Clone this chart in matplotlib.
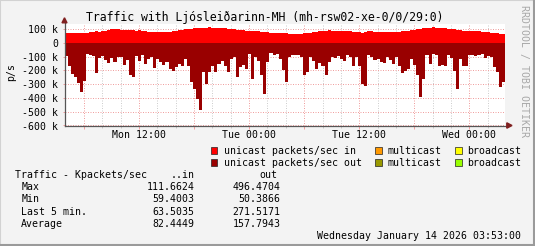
# ============================================================
# RRDTOOL-STYLE TRAFFIC GRAPH (packets/sec in / out)
# ============================================================

import numpy as np
import matplotlib.pyplot as plt
from matplotlib.patches import Rectangle, Polygon

plt.rcParams['font.family'] = 'DejaVu Sans Mono'

# ============================================================
# 1. DATA (k packets/sec, one value per 20 min, Mon 03:53 -> Wed 03:53)
# ============================================================

in_k = [
    73, 74, 72, 73, 72, 71, 70, 72,
    77, 80, 82, 81, 83, 87, 92, 97, 100, 101, 96, 90, 91, 89, 90, 88,
    90, 86, 82, 80, 78, 77, 76, 78, 77, 79, 80, 82, 86, 90, 94, 97, 100,
    103, 106, 108, 110, 106, 108, 111, 106,
    110, 108, 109, 105, 102, 100, 97, 95, 92, 90, 88, 86, 86, 84, 82,
    78, 76, 75, 74, 73, 72, 71, 70, 69,
    66, 65, 64, 65, 66, 68, 70, 72, 75, 78, 82, 86, 88, 89, 88, 87, 86,
    86, 85, 84, 83, 80, 79, 78,
    74, 76, 82, 84, 80, 78, 78, 77, 78, 77, 78, 79, 80, 82, 85, 88, 90,
    93, 98, 103, 105, 104, 106, 111,
    110, 107, 106, 104, 102, 100, 97, 92, 90, 88, 86, 85, 84, 82, 82,
    80, 78, 76, 73, 70, 68, 66, 64,
]

out_k = [
    95, 170, 230, 250, 290, 360, 280, 80, 92, 98, 220, 110, 95, 128,
    145, 110, 140, 105, 100, 160, 125, 235, 250, 95,
    135, 92, 152, 116, 104, 184, 116, 140, 160, 140, 189, 208, 177,
    152, 165, 116, 165, 285, 334, 411, 491, 213, 298, 213, 165,
    213, 152, 135, 165, 213, 116, 104, 249, 177, 160, 189, 80, 261,
    104, 135, 237, 370, 140, 73, 92, 85, 121, 201, 285,
    104, 92, 87, 92, 104, 237, 213, 104, 135, 189, 145, 165, 237, 140,
    106, 109, 97, 116, 135, 92, 102, 172, 104, 165,
    298, 310, 92, 106, 128, 116, 140, 145, 104, 128, 152, 104, 165,
    218, 208, 189, 116, 160, 232, 394, 261, 87, 152, 85,
    92, 165, 160, 165, 92, 111, 208, 334, 116, 165, 165, 90, 92, 94,
    87, 85, 111, 97, 104, 177, 213, 322, 285,
]

start_hour = 3.88          # Mon 03:53 (hours from Mon 00:00)
step_hour = 1 / 3          # 20 min

xlabel_hours = [12, 24, 36, 48]
xlabel_texts = ['Mon 12:00', 'Tue 00:00', 'Tue 12:00', 'Wed 00:00']

ytick_values = [100, 0, -100, -200, -300, -400, -500, -600]
ytick_labels = ['100 k', '0', '-100 k', '-200 k', '-300 k',
                '-400 k', '-500 k', '-600 k']

legend_rows = [
    ['unicast packets/sec in', 'multicast', 'broadcast'],
    ['unicast packets/sec out', 'multicast', 'broadcast'],
]
legend_colors = [
    ['#FF0000', '#FF9900', '#FFFF00'],
    ['#990000', '#999900', '#99FF00'],
]

stat_names = ['Max', 'Min', 'Last 5 min.', 'Average']
stat_in = ['111.6624', '59.4003', '63.5035', '82.4449']
stat_out = ['496.4704', '50.3866', '271.5171', '157.7943']

title = 'Traffic with Ljósleiðarinn-MH (mh-rsw02-xe-0/0/29:0)'
stamp = 'Wednesday January 14 2026 03:53:00'

# ============================================================
# 2. FIGURE / PIXEL HELPERS
# ============================================================

W, H = 535, 246
FS = 7.1


def fx(px):
    return px / W


def fy(py):
    return 1 - py / H


fig = plt.figure(figsize=(W / 100, H / 100), dpi=100, facecolor='#F3F3F3')

# frame shading
fig.patches.append(Rectangle((0, 0), 1, 1, transform=fig.transFigure,
                             fill=False, edgecolor='#D2D2D2', lw=1.5))
fig.lines.append(plt.Line2D([0, 1], [fy(245), fy(245)], transform=fig.transFigure,
                            color='#9A9A9A', lw=1.5))
fig.lines.append(plt.Line2D([fx(534), fx(534)], [0, 1], transform=fig.transFigure,
                            color='#9A9A9A', lw=1.5))

# ============================================================
# 3. PLOT AREA
# ============================================================

ax = fig.add_axes([fx(64.5), fy(125.5), (505 - 64.5) / W, (125.5 - 24) / H])
ax.set_facecolor('white')

t = start_hour + step_hour * np.arange(len(in_k) + 1)
in_vals = np.append(in_k, in_k[-1])
out_vals = -np.append(out_k, out_k[-1])

ax.fill_between(t, 0, in_vals, step='post', color='#FF0000', lw=0, zorder=2)
ax.fill_between(t, 0, out_vals, step='post', color='#990000', lw=0, zorder=2)

ax.set_xlim(start_hour, start_hour + 48)
ax.set_ylim(-600, 136)

# ticks
major_hours = np.arange(6, 52, 6)
ax.set_xticks(major_hours)
ax.set_xticklabels([xlabel_texts[xlabel_hours.index(h)] if h in xlabel_hours else ''
                    for h in major_hours])
ax.set_xticks(np.arange(6, 52, 2), minor=True)
ax.set_yticks(ytick_values)
ax.set_yticklabels(ytick_labels)

ax.tick_params(axis='x', which='major', length=2.2, width=0.72, color='#F0A0A0',
               pad=1.2, labelsize=FS)
ax.tick_params(axis='x', which='minor', length=1.4, width=0.72, color='#C8C8C8')
ax.tick_params(axis='y', which='major', length=1.5, width=0.72, color='#F0A0A0',
               pad=3.0, labelsize=FS)

# grid
dots = (0, (1, 1.5))
ax.grid(which='major', axis='both', color='#F0A0A0', linestyle=dots, lw=0.72, zorder=1)
ax.grid(which='minor', axis='x', color='#CFCFCF', linestyle=dots, lw=0.72, zorder=1)
ax.set_axisbelow(True)

for s in ax.spines.values():
    s.set_visible(False)

# axis lines + arrows
ax.plot([0, 1.0045], [0, 0], transform=ax.transAxes, color='#555555',
        lw=0.9, clip_on=False, zorder=5)
ax.plot([0, 0], [0, 1.02], transform=ax.transAxes, color='#555555',
        lw=0.9, clip_on=False, zorder=5)

arrow_col = '#802020'
fig.patches.append(Polygon([(fx(64.5), fy(17.8)), (fx(62.0), fy(22.8)), (fx(67.0), fy(22.8))],
                           closed=True, transform=fig.transFigure, color=arrow_col))
fig.patches.append(Polygon([(fx(512.0), fy(125.5)), (fx(506.8), fy(122.8)), (fx(506.8), fy(128.2))],
                           closed=True, transform=fig.transFigure, color=arrow_col))

# ============================================================
# 4. TEXTS
# ============================================================

fig.text(fx(265), fy(17), title, ha='center', va='center', fontsize=8.3)
fig.text(fx(11.5), fy(72), 'p/s', rotation=90, ha='center', va='center', fontsize=FS)
fig.text(fx(524.5), fy(71), 'RRDTOOL / TOBI OETIKER', rotation=270,
         ha='center', va='center', fontsize=FS, color='#A8A8A8')

# legend
box_x = [210.6, 374.7, 455.0]
text_x = [223.5, 387.7, 467.6]
row_y = [150.5, 162.8]
for r in range(2):
    for c in range(3):
        fig.patches.append(Rectangle((fx(box_x[c]), fy(row_y[r] + 3.4)), 6.8 / W, 6.8 / H,
                                     transform=fig.transFigure,
                                     facecolor=legend_colors[r][c],
                                     edgecolor='#222222', lw=0.5))
        fig.text(fx(text_x[c]), fy(row_y[r]), legend_rows[r][c],
                 ha='left', va='center', fontsize=FS)

# statistics table
fig.text(fx(15.4), fy(174.7), 'Traffic - Kpackets/sec', ha='left', va='center', fontsize=FS)
fig.text(fx(194.5), fy(174.7), '..in', ha='right', va='center', fontsize=FS)
fig.text(fx(277.5), fy(174.7), 'out', ha='right', va='center', fontsize=FS)

row_ys = [187.0, 199.3, 211.6, 223.9]
for name, vin, vout, yy in zip(stat_names, stat_in, stat_out, row_ys):
    fig.text(fx(21.2), fy(yy), name, ha='left', va='center', fontsize=FS)
    fig.text(fx(194.5), fy(yy), vin, ha='right', va='center', fontsize=FS)
    fig.text(fx(280.5), fy(yy), vout, ha='right', va='center', fontsize=FS)

fig.text(fx(521), fy(236), stamp, ha='right', va='center', fontsize=FS)

# ============================================================
# 5. SAVE
# ============================================================

fig.savefig('out.png', dpi=100, facecolor=fig.get_facecolor())
